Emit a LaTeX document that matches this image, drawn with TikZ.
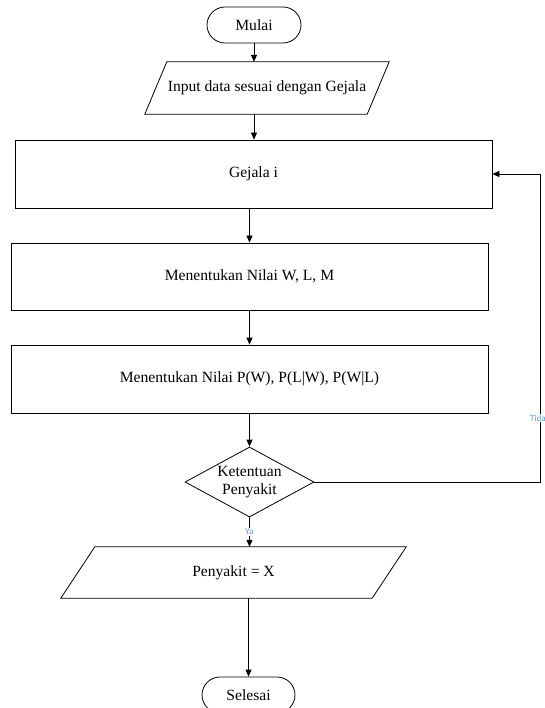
\documentclass[tikz,border=0pt]{standalone}
\usepackage{fontspec}
\setmainfont{Liberation Serif}
\newfontfamily\labelfont{Carlito}
\usetikzlibrary{shapes.geometric,shapes.misc,arrows.meta}
\definecolor{lblblue}{RGB}{91,155,213}
\begin{document}
\begin{tikzpicture}[x=1pt,y=-1pt,
  every node/.style={font=\fontsize{15.6}{18.5}\selectfont},
  arr/.style={line width=0.8pt,-{Triangle[length=7pt,width=6pt]}},
  term/.style={rounded rectangle, draw, line width=0.8pt, minimum width=94pt, minimum height=36pt, inner sep=0pt},
  proc/.style={rectangle, draw, line width=0.8pt, inner sep=0pt},
  plain/.style={inner sep=0pt},
  lbl/.style={font=\labelfont\fontsize{9}{10}\selectfont, text=lblblue, fill=white, inner sep=1pt}]
\useasboundingbox (0,0) rectangle (545,708);
\fill[white] (0,0) rectangle (545,708);

\node[term] (start) at (254,25) {Mulai};

\node[plain, minimum width=222pt, minimum height=52pt] (inp) at (267,88) {Input data sesuai dengan Gejala};
\draw[line width=0.8pt] ([xshift=11pt]inp.north west) -- ([xshift=11pt]inp.north east)
  -- ([xshift=-11pt]inp.south east) -- ([xshift=-11pt]inp.south west) -- cycle;

\node[proc, minimum width=477pt, minimum height=68pt] (gej) at (253.5,174) {Gejala i};
\node[proc, minimum width=477pt, minimum height=67pt] (wlm) at (249.5,276.5) {Menentukan Nilai W, L, M};
\node[proc, minimum width=477pt, minimum height=68pt] (pw) at (249.5,379) {Menentukan Nilai P(W), P(L|W), P(W|L)};

\node[diamond, draw, line width=0.8pt, aspect=1.84, inner sep=0pt, minimum width=129pt, minimum height=70pt, align=center] (dec) at (249.5,482) {Ketentuan\\Penyakit};

\node[plain, minimum width=311pt, minimum height=51pt] (out) at (233.5,572.5) {Penyakit = X};
\draw[line width=0.8pt] ([xshift=17pt]out.north west) -- ([xshift=17pt]out.north east)
  -- ([xshift=-17pt]out.south east) -- ([xshift=-17pt]out.south west) -- cycle;

\node[term, minimum width=93pt] (end) at (248.5,695) {Selesai};

\coordinate (loopx) at (540,0);

\draw[arr] (start.south) -- (start.south |- inp.north);
\draw[arr] (start.south |- inp.south) -- (start.south |- gej.north);
\draw[arr] (dec.north |- gej.south) -- (dec.north |- wlm.north);
\draw[arr] (wlm.south) -- (pw.north);
\draw[arr] (pw.south) -- (dec.north);
\draw[arr] (dec.south) -- node[lbl, pos=0.5] (ya) {Ya} (dec.south |- out.north);
\draw[arr] (end.north |- out.south) -- (end.north);
\draw[arr] (dec.east) -- (dec.east -| loopx) |- (gej.east);
\node[lbl] (tidak) at (540,418) {Tidak};
\end{tikzpicture}
\end{document}
